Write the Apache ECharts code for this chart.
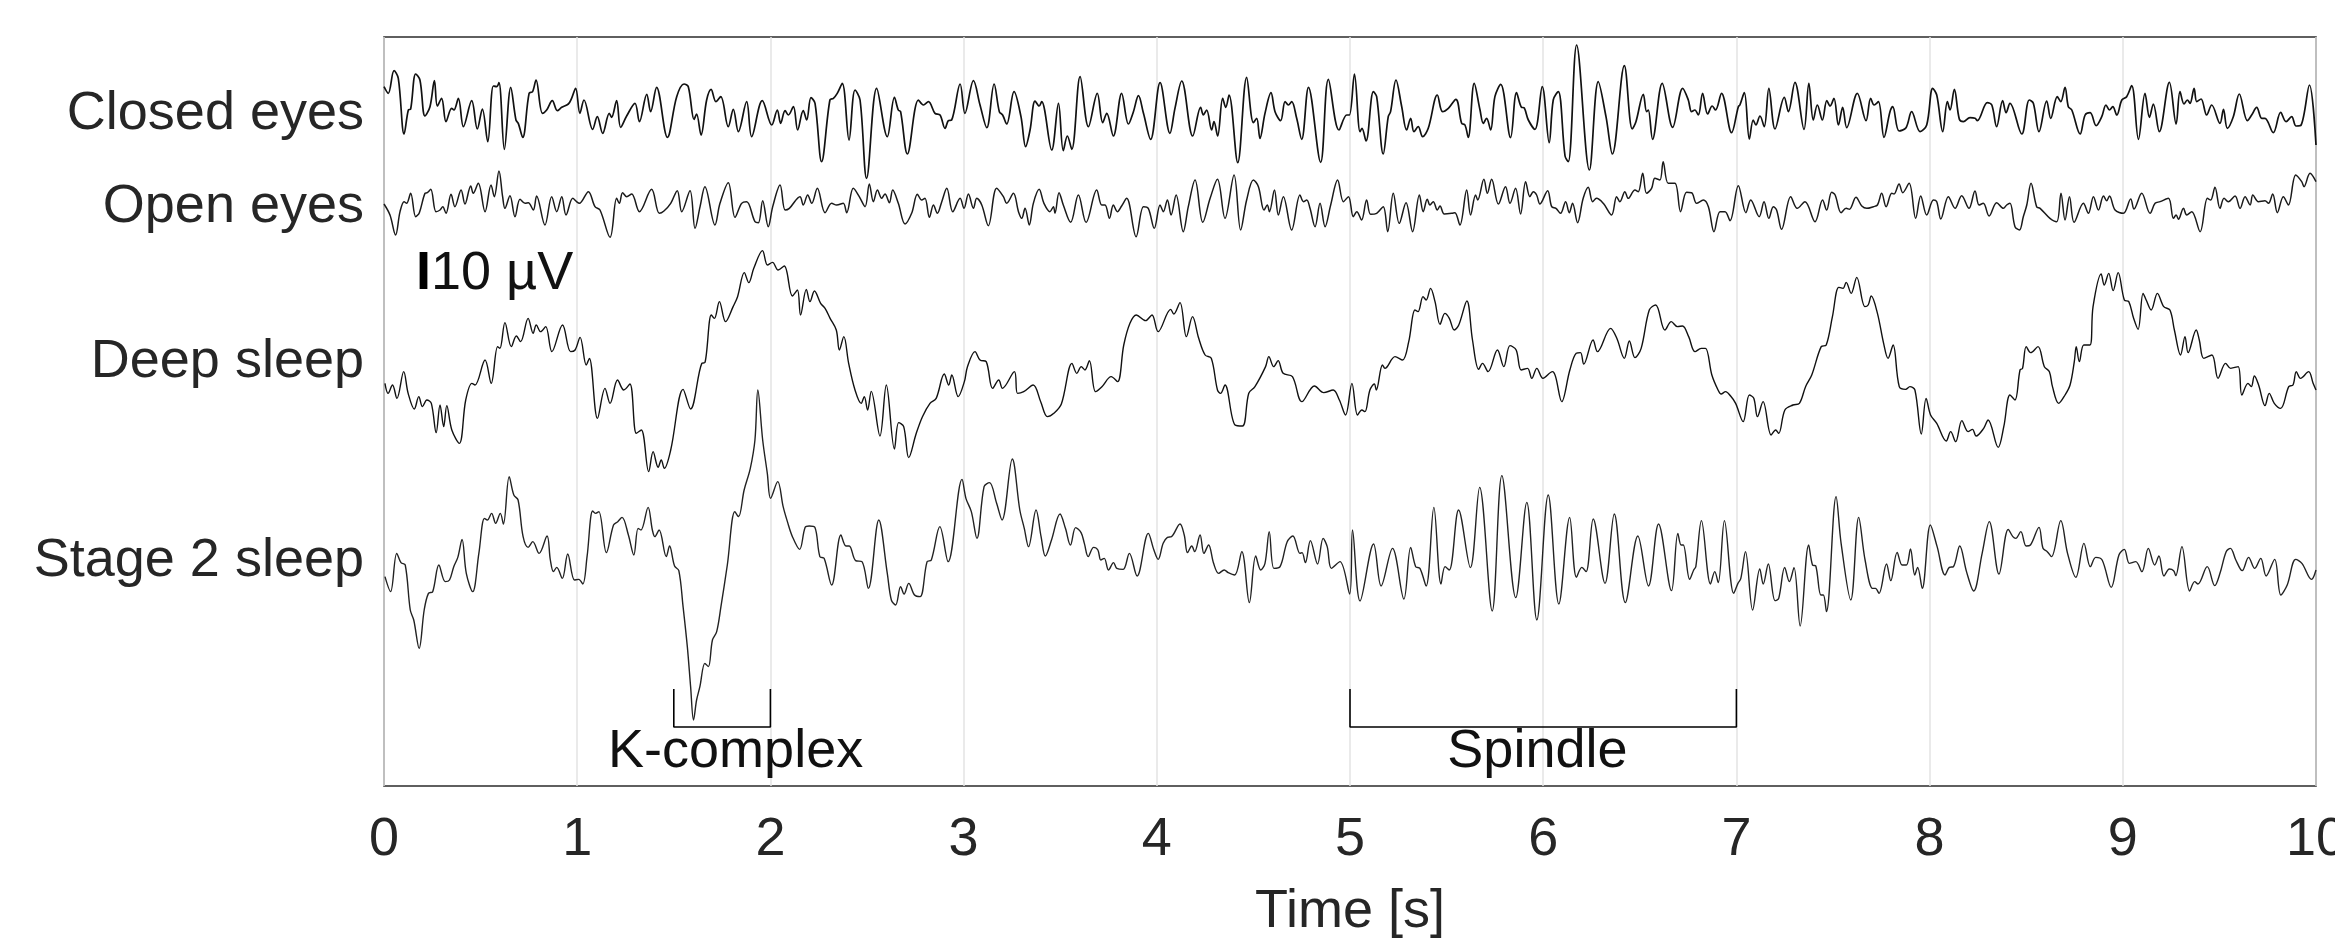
<!DOCTYPE html>
<html>
<head>
<meta charset="utf-8">
<script src="https://cdn.jsdelivr.net/npm/echarts@6/dist/echarts.min.js"></script>
<style>html,body{margin:0;padding:0;background:#fff;overflow:hidden}#c{width:2335px;height:946px}</style>
</head>
<body>
<div id="c"></div>
<script>
// ---- data: [time (s), amplitude (µV)] ----
const traceNames = ['Closed eyes', 'Open eyes', 'Deep sleep', 'Stage 2 sleep'];
const xTicks = [0,1,2,3,4,5,6,7,8,9,10];
const scaleLabel = '10 µV';
const kComplexSpan = [1.5, 2.0];
const spindleSpan = [5.0, 7.0];

const closedEyes = [[0.000,7.0],[0.022,5.0],[0.052,11.8],[0.074,9.5],[0.104,-7.2],[0.126,0.0],[0.138,0.3],[0.164,10.8],[0.186,9.0],[0.212,-1.8],[0.238,1.0],[0.261,8.8],[0.276,1.2],[0.298,3.5],[0.321,-3.5],[0.350,0.5],[0.362,0.0],[0.385,3.5],[0.411,-5.0],[0.454,2.8],[0.483,-5.7],[0.509,0.3],[0.537,-9.5],[0.566,7.2],[0.583,7.0],[0.595,8.2],[0.623,-11.8],[0.656,6.8],[0.683,-3.0],[0.695,-4.0],[0.718,-8.2],[0.751,5.0],[0.769,5.5],[0.787,9.0],[0.820,-1.0],[0.842,0.0],[0.871,2.8],[0.897,-0.2],[0.920,0.8],[0.954,1.8],[0.971,3.5],[0.992,6.5],[1.014,-1.0],[1.035,3.0],[1.080,-5.8],[1.104,-2.0],[1.132,-7.0],[1.166,-1.0],[1.178,-2.2],[1.204,2.8],[1.225,-5.2],[1.256,-1.8],[1.299,2.0],[1.322,-3.5],[1.360,4.7],[1.380,-0.5],[1.411,6.8],[1.467,-8.2],[1.515,4.0],[1.553,7.8],[1.575,7.0],[1.605,-2.8],[1.618,-1.2],[1.641,-7.5],[1.670,3.0],[1.693,6.2],[1.718,2.5],[1.743,4.0],[1.782,-5.0],[1.808,0.2],[1.834,-6.5],[1.877,2.5],[1.903,-8.0],[1.958,2.8],[2.007,-4.5],[2.036,0.0],[2.053,-4.0],[2.076,-0.2],[2.093,-1.5],[2.119,1.0],[2.141,-6.0],[2.170,-0.2],[2.188,-3.0],[2.210,3.7],[2.231,2.0],[2.265,-15.5],[2.308,3.0],[2.326,3.5],[2.346,5.0],[2.372,8.0],[2.407,-9.0],[2.438,6.0],[2.464,3.0],[2.498,-20.5],[2.550,6.5],[2.605,-8.0],[2.642,3.8],[2.662,0.0],[2.674,-0.5],[2.709,-13.2],[2.766,3.0],[2.792,1.5],[2.818,2.5],[2.852,-1.0],[2.878,-1.5],[2.904,-5.5],[2.921,-3.2],[2.938,-3.0],[2.982,7.8],[3.007,-1.0],[3.051,8.8],[3.085,1.5],[3.120,-5.3],[3.158,7.8],[3.185,-0.5],[3.202,-1.5],[3.223,-4.2],[3.261,5.5],[3.297,-2.0],[3.321,-11.0],[3.344,-6.0],[3.370,2.7],[3.391,1.2],[3.404,2.5],[3.456,-12.0],[3.491,2.0],[3.516,-12.2],[3.537,-7.8],[3.560,-11.8],[3.603,10.0],[3.646,-5.0],[3.692,5.0],[3.720,-3.8],[3.741,-1.0],[3.775,-7.8],[3.818,5.0],[3.853,-4.2],[3.879,-0.5],[3.905,4.3],[3.931,-1.0],[3.968,-8.8],[4.017,8.2],[4.068,-7.0],[4.094,0.5],[4.129,8.7],[4.186,-7.8],[4.227,0.8],[4.241,-1.5],[4.258,0.0],[4.284,-6.0],[4.296,-3.5],[4.315,-7.8],[4.341,3.5],[4.357,0.8],[4.374,4.5],[4.419,-15.8],[4.465,9.8],[4.500,-3.8],[4.517,-2.5],[4.534,-8.5],[4.560,-1.0],[4.591,5.2],[4.612,-0.5],[4.641,-3.2],[4.664,2.5],[4.681,1.5],[4.698,2.5],[4.724,-2.5],[4.750,-8.8],[4.785,6.8],[4.848,-15.7],[4.888,9.2],[4.943,-6.0],[4.983,-1.5],[4.997,-1.5],[5.023,10.8],[5.052,-6.5],[5.062,-5.5],[5.083,-9.3],[5.121,5.5],[5.138,4.0],[5.172,-13.2],[5.198,-2.0],[5.210,-0.5],[5.238,9.0],[5.267,1.2],[5.293,-6.0],[5.314,-2.5],[5.331,-6.5],[5.353,-5.0],[5.376,-8.0],[5.405,-5.5],[5.452,4.5],[5.479,-0.5],[5.509,0.5],[5.548,3.2],[5.578,-4.0],[5.595,-4.5],[5.612,-8.2],[5.643,8.0],[5.673,0.0],[5.690,-4.0],[5.707,-2.5],[5.728,-6.0],[5.750,4.0],[5.780,7.7],[5.831,-8.3],[5.862,5.2],[5.888,0.8],[5.900,0.7],[5.923,-3.0],[5.957,-5.8],[5.995,7.0],[6.031,-9.8],[6.052,3.0],[6.078,5.5],[6.113,-13.8],[6.130,-15.5],[6.173,19.5],[6.239,-18.0],[6.285,8.5],[6.325,-2.0],[6.358,-13.2],[6.420,13.3],[6.461,-5.7],[6.480,-3.5],[6.518,4.7],[6.535,-0.5],[6.544,0.0],[6.566,-8.8],[6.616,8.0],[6.670,-5.2],[6.722,6.5],[6.751,3.0],[6.768,-0.5],[6.785,0.0],[6.803,-1.5],[6.825,5.0],[6.851,-1.2],[6.875,1.2],[6.892,0.0],[6.923,5.0],[6.975,-6.8],[7.010,1.0],[7.018,1.5],[7.041,5.2],[7.067,-8.7],[7.087,-3.0],[7.101,-4.5],[7.122,-1.8],[7.144,-5.0],[7.168,6.5],[7.200,-5.7],[7.248,3.8],[7.269,-0.5],[7.303,8.3],[7.350,-5.8],[7.375,8.0],[7.398,-3.0],[7.419,1.5],[7.445,-3.0],[7.468,2.8],[7.485,1.2],[7.505,3.5],[7.528,-4.5],[7.550,0.8],[7.571,-5.3],[7.626,5.0],[7.671,-3.2],[7.695,3.5],[7.713,1.5],[7.735,2.5],[7.764,-8.2],[7.795,-0.5],[7.809,1.0],[7.842,-6.3],[7.878,-5.3],[7.907,-0.5],[7.951,-6.5],[7.985,-4.5],[8.016,6.5],[8.037,4.5],[8.068,-6.5],[8.092,2.5],[8.106,0.0],[8.128,6.2],[8.154,-2.8],[8.175,-3.5],[8.209,-2.3],[8.235,-2.5],[8.247,-3.2],[8.299,2.2],[8.322,1.5],[8.347,-5.0],[8.378,2.8],[8.396,-0.8],[8.416,2.0],[8.477,-7.2],[8.516,3.0],[8.537,2.0],[8.566,-6.5],[8.606,2.7],[8.627,-2.5],[8.661,4.0],[8.679,2.5],[8.701,6.8],[8.718,1.0],[8.736,0.0],[8.779,-7.2],[8.805,-1.5],[8.831,-0.8],[8.862,-4.7],[8.891,-2.0],[8.913,1.5],[8.931,0.0],[8.948,1.0],[8.969,-1.5],[8.995,3.0],[9.020,4.0],[9.046,7.3],[9.081,-8.8],[9.115,5.0],[9.138,-2.2],[9.158,1.8],[9.189,-6.5],[9.241,8.3],[9.276,-4.2],[9.296,5.5],[9.317,1.8],[9.334,3.0],[9.348,2.0],[9.369,6.5],[9.383,2.5],[9.405,3.3],[9.434,-1.5],[9.460,1.5],[9.503,-4.0],[9.521,0.2],[9.541,-5.5],[9.572,-2.0],[9.603,4.8],[9.645,-3.2],[9.667,-1.5],[9.693,0.8],[9.719,-2.5],[9.736,-2.5],[9.779,-6.8],[9.817,-0.7],[9.845,-3.5],[9.874,-2.0],[9.897,-4.8],[9.923,-4.5],[9.966,7.5],[10.000,-10.5]];

const openEyes = [[0.000,-0.2],[0.031,-3.5],[0.060,-9.5],[0.083,-2.5],[0.104,0.5],[0.117,0.0],[0.138,3.0],[0.164,-4.0],[0.183,-2.8],[0.212,3.0],[0.224,3.2],[0.242,4.2],[0.269,-2.5],[0.290,-2.0],[0.304,-1.0],[0.321,-3.0],[0.347,2.7],[0.367,-1.0],[0.399,4.0],[0.419,-0.2],[0.449,5.2],[0.462,3.0],[0.488,6.0],[0.523,-2.5],[0.554,5.5],[0.571,2.0],[0.595,9.7],[0.614,2.0],[0.626,-1.5],[0.652,2.3],[0.678,-4.0],[0.704,1.2],[0.730,0.0],[0.747,0.2],[0.773,-2.0],[0.790,2.2],[0.833,-6.5],[0.868,2.0],[0.894,-2.5],[0.920,2.0],[0.942,-3.5],[0.977,1.5],[0.997,0.5],[1.011,0.0],[1.058,3.5],[1.092,-1.0],[1.118,-2.0],[1.170,-10.2],[1.204,1.5],[1.218,0.0],[1.235,3.2],[1.256,2.0],[1.282,2.8],[1.322,-2.5],[1.385,4.2],[1.425,-3.0],[1.449,-2.3],[1.484,0.0],[1.518,3.8],[1.541,-2.5],[1.584,3.8],[1.610,-7.5],[1.636,-1.0],[1.661,5.0],[1.713,-6.5],[1.739,0.0],[1.782,6.2],[1.817,-4.2],[1.851,0.0],[1.877,0.5],[1.920,-5.5],[1.938,-5.8],[1.960,0.8],[1.989,-7.0],[2.012,-1.0],[2.050,5.5],[2.076,-2.0],[2.098,-1.5],[2.153,2.0],[2.170,-0.5],[2.193,2.5],[2.214,0.0],[2.243,4.5],[2.283,-2.8],[2.317,0.0],[2.343,-0.5],[2.377,0.0],[2.395,-2.8],[2.429,4.5],[2.460,2.0],[2.490,-1.0],[2.512,5.8],[2.533,0.5],[2.554,4.0],[2.576,1.5],[2.593,2.8],[2.616,0.2],[2.633,4.0],[2.662,0.0],[2.697,-6.2],[2.731,-3.0],[2.761,2.7],[2.783,1.0],[2.800,1.5],[2.823,-4.2],[2.844,-0.5],[2.864,-3.0],[2.887,0.5],[2.913,4.5],[2.944,-2.5],[2.982,1.5],[3.002,-1.5],[3.025,2.8],[3.051,-1.5],[3.068,1.5],[3.094,-0.5],[3.128,-6.7],[3.171,4.5],[3.206,2.0],[3.223,0.0],[3.258,3.0],[3.284,-2.5],[3.301,-4.5],[3.318,-1.5],[3.340,-6.5],[3.361,0.0],[3.391,4.2],[3.416,0.0],[3.447,-2.5],[3.465,-1.0],[3.473,-3.0],[3.494,3.2],[3.516,-0.5],[3.554,-5.7],[3.594,2.5],[3.634,-5.7],[3.689,4.0],[3.715,-0.5],[3.732,-0.5],[3.755,-4.5],[3.775,-0.5],[3.796,-2.5],[3.818,-0.8],[3.844,1.5],[3.893,-10.0],[3.931,-1.0],[3.956,-1.5],[3.987,-7.5],[4.017,-0.5],[4.034,-2.5],[4.055,1.0],[4.074,-3.5],[4.100,2.5],[4.137,-8.5],[4.163,-1.0],[4.198,7.0],[4.238,-5.7],[4.276,1.5],[4.314,7.2],[4.353,-4.5],[4.400,8.5],[4.434,-8.0],[4.465,1.0],[4.500,7.0],[4.526,5.0],[4.555,-2.0],[4.572,-0.5],[4.583,-2.5],[4.609,4.0],[4.629,-3.5],[4.655,2.0],[4.698,-8.0],[4.741,2.5],[4.759,0.5],[4.776,1.0],[4.793,-1.5],[4.819,-7.0],[4.845,0.0],[4.871,-7.0],[4.900,-0.5],[4.936,7.0],[4.966,0.5],[4.992,2.0],[5.017,-4.0],[5.035,-2.5],[5.060,-5.0],[5.086,1.0],[5.107,-3.3],[5.138,-3.0],[5.172,-1.0],[5.195,-8.5],[5.224,3.0],[5.255,-6.0],[5.290,0.2],[5.324,-8.5],[5.359,2.5],[5.379,-2.5],[5.400,1.2],[5.414,-0.5],[5.431,0.5],[5.452,-2.0],[5.466,-0.8],[5.488,-3.2],[5.526,-3.0],[5.543,-2.8],[5.569,-6.5],[5.604,4.0],[5.624,-3.5],[5.650,2.5],[5.661,1.0],[5.693,7.2],[5.711,3.0],[5.733,7.2],[5.768,-0.2],[5.805,5.0],[5.828,0.0],[5.857,4.5],[5.883,-3.2],[5.909,6.5],[5.931,2.0],[5.949,3.5],[5.966,2.5],[5.983,-0.2],[6.023,3.8],[6.044,-1.0],[6.066,-1.5],[6.090,-3.0],[6.116,0.5],[6.135,-2.8],[6.152,0.0],[6.178,-5.8],[6.207,1.5],[6.233,4.8],[6.256,0.5],[6.276,1.5],[6.311,0.0],[6.354,-3.5],[6.380,2.0],[6.397,0.5],[6.423,3.5],[6.440,1.5],[6.475,4.0],[6.492,3.5],[6.515,9.0],[6.535,3.0],[6.561,4.5],[6.578,7.5],[6.604,7.0],[6.621,12.5],[6.647,6.0],[6.682,6.0],[6.711,-2.5],[6.742,3.3],[6.768,3.2],[6.794,0.0],[6.829,1.0],[6.855,-1.0],[6.884,-8.5],[6.915,-2.5],[6.941,-2.5],[6.967,-5.2],[7.010,5.3],[7.049,-2.8],[7.074,1.0],[7.118,-4.0],[7.143,0.5],[7.168,-4.5],[7.191,-1.0],[7.208,-2.0],[7.234,-7.8],[7.281,2.0],[7.315,-1.5],[7.355,0.5],[7.407,-5.5],[7.446,1.0],[7.467,-2.0],[7.493,3.3],[7.511,2.5],[7.542,-2.8],[7.568,-1.5],[7.585,-1.8],[7.619,1.8],[7.649,-0.8],[7.675,-1.5],[7.709,-1.0],[7.730,-0.5],[7.752,3.0],[7.775,-1.0],[7.804,3.0],[7.816,2.8],[7.842,5.8],[7.861,3.2],[7.894,6.0],[7.928,-4.5],[7.954,2.2],[7.985,-3.5],[8.020,1.0],[8.037,0.5],[8.058,-4.7],[8.097,2.0],[8.132,-1.5],[8.166,2.3],[8.204,-1.5],[8.235,3.7],[8.256,-0.5],[8.278,0.0],[8.308,-3.8],[8.347,0.2],[8.382,-1.5],[8.399,-0.5],[8.416,0.0],[8.442,-7.0],[8.465,-8.0],[8.485,-4.0],[8.503,-0.5],[8.525,6.0],[8.554,-1.0],[8.572,-1.5],[8.623,-4.5],[8.658,-5.5],[8.680,3.0],[8.701,-5.0],[8.724,2.0],[8.748,-5.7],[8.796,0.0],[8.822,-3.0],[8.848,2.0],[8.874,-2.0],[8.900,2.2],[8.917,0.8],[8.931,2.2],[8.960,-2.0],[9.003,-3.0],[9.041,1.3],[9.058,-1.7],[9.098,3.0],[9.141,-3.0],[9.167,0.0],[9.193,0.5],[9.236,1.5],[9.262,-4.5],[9.276,-3.5],[9.288,-4.8],[9.314,-1.5],[9.331,-3.5],[9.357,-2.5],[9.400,-8.5],[9.438,1.5],[9.455,1.0],[9.477,4.8],[9.503,-1.5],[9.524,1.5],[9.546,0.5],[9.581,2.2],[9.607,-1.5],[9.633,2.0],[9.659,-0.5],[9.673,2.5],[9.702,0.5],[9.736,0.8],[9.754,0.0],[9.776,2.8],[9.800,-2.8],[9.831,2.0],[9.857,-0.5],[9.895,8.5],[9.926,6.5],[9.938,5.0],[9.969,9.0],[10.000,6.5]];

const deepSleep = [[0.005,-6.0],[0.021,-9.0],[0.044,-6.5],[0.067,-10.5],[0.102,-2.5],[0.125,-9.0],[0.157,-13.7],[0.180,-10.0],[0.199,-13.0],[0.222,-11.0],[0.245,-12.0],[0.270,-20.8],[0.290,-12.5],[0.309,-19.0],[0.325,-12.7],[0.351,-20.0],[0.390,-24.0],[0.423,-11.0],[0.455,-6.0],[0.471,-6.5],[0.523,1.0],[0.555,-6.0],[0.588,5.0],[0.600,4.5],[0.626,12.2],[0.659,5.0],[0.685,8.2],[0.707,6.5],[0.746,13.5],[0.772,9.0],[0.788,11.5],[0.811,9.5],[0.837,11.0],[0.869,3.5],[0.924,11.5],[0.966,3.5],[0.989,4.0],[1.015,7.8],[1.047,-0.5],[1.063,1.5],[1.105,-16.5],[1.144,-7.5],[1.170,-12.0],[1.209,-5.0],[1.241,-8.0],[1.273,-6.2],[1.306,-21.0],[1.332,-20.0],[1.370,-32.5],[1.393,-26.5],[1.419,-31.2],[1.435,-29.0],[1.451,-31.5],[1.484,-26.0],[1.548,-7.8],[1.587,-13.7],[1.645,0.0],[1.661,0.2],[1.694,14.5],[1.710,13.5],[1.736,18.5],[1.768,12.5],[1.807,17.0],[1.830,20.0],[1.865,27.2],[1.888,24.2],[1.914,28.5],[1.959,33.8],[1.985,29.5],[2.011,30.3],[2.040,28.0],[2.072,29.2],[2.114,20.2],[2.140,22.0],[2.156,14.5],[2.186,22.2],[2.205,18.5],[2.228,21.7],[2.260,18.0],[2.283,16.5],[2.309,13.5],[2.341,10.0],[2.357,4.0],[2.380,8.0],[2.405,0.0],[2.438,-8.0],[2.470,-12.0],[2.486,-10.0],[2.503,-14.0],[2.522,-8.4],[2.567,-21.8],[2.600,-6.5],[2.642,-25.7],[2.664,-17.8],[2.690,-19.0],[2.716,-28.3],[2.755,-21.0],[2.787,-16.0],[2.826,-12.0],[2.858,-10.5],[2.900,-3.2],[2.923,-6.5],[2.939,-3.5],[2.972,-10.0],[3.004,-5.5],[3.020,-1.0],[3.059,3.5],[3.085,1.0],[3.117,0.5],[3.150,-7.5],[3.182,-5.0],[3.201,-7.5],[3.263,-2.5],[3.279,-9.0],[3.311,-8.5],[3.360,-6.5],[3.399,-11.5],[3.434,-16.0],[3.467,-15.0],[3.506,-12.2],[3.561,0.0],[3.586,-3.0],[3.609,-1.0],[3.628,-2.0],[3.651,0.8],[3.683,-8.5],[3.716,-7.0],[3.764,-4.0],[3.797,-5.5],[3.829,5.5],[3.861,12.0],[3.894,14.5],[3.942,12.8],[3.975,14.5],[4.007,9.5],[4.072,16.2],[4.088,14.8],[4.120,18.2],[4.153,8.0],[4.185,14.0],[4.217,7.5],[4.250,2.5],[4.282,1.5],[4.314,-8.0],[4.330,-9.0],[4.353,-6.5],[4.405,-18.5],[4.444,-18.8],[4.476,-9.0],[4.508,-7.0],[4.563,-1.0],[4.580,2.0],[4.605,-1.0],[4.628,0.8],[4.654,-3.0],[4.702,-4.0],[4.751,-11.5],[4.816,-6.8],[4.864,-8.8],[4.913,-8.0],[4.945,-11.0],[4.977,-15.5],[5.010,-6.0],[5.039,-15.5],[5.061,-14.0],[5.077,-14.5],[5.103,-8.0],[5.126,-6.2],[5.136,-8.0],[5.168,-0.5],[5.181,-1.5],[5.233,2.0],[5.272,1.0],[5.304,6.5],[5.336,16.0],[5.352,15.5],[5.378,20.0],[5.394,19.0],[5.417,22.5],[5.440,18.5],[5.466,11.7],[5.491,15.0],[5.514,13.5],[5.540,10.0],[5.563,11.5],[5.605,18.7],[5.634,7.0],[5.666,-1.8],[5.686,0.0],[5.715,-2.5],[5.763,4.0],[5.796,-1.0],[5.828,5.3],[5.860,4.0],[5.886,-2.0],[5.919,-1.5],[5.941,-4.5],[5.967,-1.5],[5.999,-4.5],[6.048,-2.5],[6.064,-4.0],[6.096,-11.5],[6.138,-2.0],[6.171,3.0],[6.193,3.2],[6.210,-0.2],[6.258,7.0],[6.281,3.5],[6.349,10.5],[6.381,7.5],[6.420,1.5],[6.446,6.7],[6.475,1.7],[6.507,4.5],[6.549,16.0],[6.582,17.5],[6.630,10.0],[6.663,12.5],[6.695,11.0],[6.721,11.2],[6.753,8.0],[6.786,3.5],[6.818,4.5],[6.840,4.5],[6.873,-3.5],[6.905,-8.0],[6.921,-9.2],[6.944,-8.5],[6.970,-9.8],[6.996,-12.0],[7.035,-17.5],[7.067,-9.5],[7.090,-10.5],[7.109,-16.0],[7.138,-11.5],[7.180,-21.5],[7.203,-20.0],[7.219,-21.0],[7.251,-14.0],[7.293,-12.5],[7.326,-12.0],[7.358,-7.0],[7.390,-3.5],[7.439,5.0],[7.465,5.5],[7.497,14.0],[7.530,22.8],[7.552,22.5],[7.568,24.3],[7.594,21.0],[7.623,25.8],[7.665,17.0],[7.682,17.5],[7.698,20.2],[7.730,15.0],[7.762,6.0],[7.785,1.5],[7.811,5.5],[7.843,-7.0],[7.876,-7.8],[7.898,-7.0],[7.924,-8.0],[7.957,-21.2],[7.982,-10.5],[8.005,-15.5],[8.037,-18.0],[8.086,-23.3],[8.109,-20.5],[8.135,-23.5],[8.167,-17.2],[8.199,-20.5],[8.222,-19.8],[8.241,-21.8],[8.280,-19.5],[8.303,-17.0],[8.355,-25.2],[8.384,-19.0],[8.416,-9.5],[8.442,-11.0],[8.468,-2.0],[8.481,-1.5],[8.500,5.0],[8.523,3.2],[8.561,5.0],[8.594,-1.0],[8.620,-2.5],[8.636,-7.0],[8.668,-12.0],[8.701,-9.5],[8.727,-6.5],[8.749,0.5],[8.759,5.0],[8.775,0.5],[8.798,5.5],[8.830,5.5],[8.846,17.0],[8.888,26.8],[8.904,23.5],[8.927,27.0],[8.950,21.8],[8.976,27.2],[9.008,19.0],[9.031,18.5],[9.056,13.5],[9.079,10.2],[9.105,21.0],[9.121,19.0],[9.147,16.0],[9.179,21.0],[9.212,17.0],[9.244,16.0],[9.267,10.0],[9.299,2.5],[9.322,8.0],[9.338,3.2],[9.380,10.0],[9.396,7.0],[9.419,1.5],[9.461,2.5],[9.493,-4.5],[9.532,0.0],[9.558,-1.5],[9.597,-1.0],[9.616,-9.5],[9.648,-6.0],[9.665,-7.0],[9.681,-3.8],[9.703,-6.5],[9.736,-12.7],[9.758,-9.0],[9.784,-12.0],[9.817,-13.5],[9.859,-7.0],[9.881,-6.5],[9.898,-2.5],[9.920,-4.5],[9.962,-2.5],[9.985,-6.0],[10.000,-8.0]];

const stage2Sleep = [[0.005,-1.0],[0.034,-5.5],[0.066,6.0],[0.088,3.2],[0.110,2.5],[0.136,-11.0],[0.154,-14.0],[0.182,-22.5],[0.208,-11.0],[0.230,-6.0],[0.252,-5.5],[0.284,2.5],[0.317,-2.5],[0.339,-2.0],[0.361,2.0],[0.382,4.8],[0.404,10.2],[0.426,0.0],[0.459,-5.5],[0.491,6.0],[0.520,16.5],[0.535,16.0],[0.557,18.0],[0.578,15.0],[0.602,18.0],[0.618,14.8],[0.648,29.0],[0.672,23.5],[0.694,22.0],[0.720,11.0],[0.746,7.8],[0.770,9.5],[0.803,6.0],[0.844,11.2],[0.861,4.0],[0.877,0.5],[0.894,1.8],[0.923,-1.5],[0.951,5.8],[0.986,-2.0],[1.008,-1.8],[1.029,-3.2],[1.051,5.0],[1.080,18.7],[1.095,18.0],[1.112,18.5],[1.151,6.2],[1.188,14.5],[1.210,15.5],[1.232,16.8],[1.265,11.5],[1.293,5.5],[1.315,13.5],[1.330,13.0],[1.367,19.8],[1.389,13.0],[1.402,11.0],[1.424,13.0],[1.461,5.0],[1.478,8.2],[1.504,2.2],[1.526,0.8],[1.548,-10.0],[1.570,-22.0],[1.587,-34.0],[1.602,-44.0],[1.618,-38.0],[1.635,-34.0],[1.661,-27.0],[1.679,-28.0],[1.700,-20.0],[1.722,-17.5],[1.744,-10.0],[1.777,2.5],[1.816,18.5],[1.835,17.0],[1.864,25.0],[1.896,31.5],[1.920,40.0],[1.935,55.0],[1.960,40.0],[1.984,30.0],[2.001,22.5],[2.038,27.5],[2.066,20.0],[2.088,15.5],[2.114,11.0],[2.151,7.2],[2.180,13.8],[2.201,14.2],[2.230,13.8],[2.256,5.0],[2.278,4.5],[2.317,-3.5],[2.365,11.5],[2.391,8.2],[2.408,8.2],[2.441,3.8],[2.474,3.5],[2.507,-4.5],[2.561,16.0],[2.605,0.0],[2.626,-8.0],[2.648,-9.5],[2.674,-4.0],[2.692,-6.2],[2.716,-3.0],[2.746,-6.5],[2.775,-7.0],[2.811,3.5],[2.833,4.0],[2.877,14.0],[2.920,3.5],[2.992,28.2],[3.012,22.5],[3.040,18.5],[3.069,10.5],[3.106,26.0],[3.134,27.2],[3.171,21.0],[3.199,16.0],[3.252,34.3],[3.291,19.0],[3.314,13.5],[3.336,8.0],[3.375,19.0],[3.401,11.0],[3.423,5.2],[3.455,10.0],[3.499,17.8],[3.527,13.5],[3.553,8.5],[3.580,13.7],[3.608,12.2],[3.625,9.0],[3.645,5.0],[3.673,7.8],[3.695,7.0],[3.710,4.0],[3.728,4.5],[3.750,1.0],[3.776,3.2],[3.793,1.5],[3.826,1.2],[3.858,6.0],[3.898,-0.8],[3.956,12.0],[3.985,7.0],[4.007,4.2],[4.033,9.0],[4.055,10.8],[4.076,11.0],[4.120,14.8],[4.142,11.5],[4.159,6.2],[4.181,8.2],[4.196,6.5],[4.224,11.5],[4.244,6.0],[4.268,8.5],[4.294,3.0],[4.320,0.0],[4.349,1.0],[4.370,0.2],[4.403,-0.5],[4.440,6.5],[4.479,-8.8],[4.512,5.2],[4.538,1.0],[4.560,3.0],[4.582,12.5],[4.606,1.5],[4.638,2.0],[4.675,9.5],[4.704,11.2],[4.741,6.0],[4.752,6.2],[4.769,3.2],[4.795,9.8],[4.832,2.8],[4.861,10.5],[4.882,8.0],[4.904,1.5],[4.948,3.5],[4.998,-6.2],[5.013,13.0],[5.052,-8.3],[5.122,8.8],[5.161,-3.8],[5.220,7.5],[5.279,-7.7],[5.314,7.8],[5.340,2.0],[5.362,1.5],[5.394,-3.8],[5.434,19.8],[5.471,-3.2],[5.492,2.0],[5.514,1.0],[5.562,19.0],[5.623,1.7],[5.671,25.8],[5.736,-11.3],[5.786,29.3],[5.858,-7.3],[5.915,21.3],[5.967,-14.0],[6.026,23.5],[6.081,-9.2],[6.137,16.8],[6.172,-1.2],[6.200,1.8],[6.222,0.5],[6.259,16.3],[6.320,-3.0],[6.368,17.8],[6.425,-8.8],[6.490,11.2],[6.545,-3.8],[6.597,14.8],[6.664,-5.2],[6.697,12.0],[6.714,8.5],[6.725,8.5],[6.758,-1.8],[6.779,1.0],[6.790,2.0],[6.819,15.8],[6.866,-3.2],[6.888,0.5],[6.906,-2.8],[6.938,15.8],[6.986,-6.0],[7.008,-3.0],[7.023,-1.5],[7.047,6.5],[7.084,-11.0],[7.121,1.3],[7.139,-3.2],[7.165,2.8],[7.200,-8.2],[7.219,-7.5],[7.250,1.8],[7.274,-2.5],[7.298,1.7],[7.330,-15.8],[7.374,8.5],[7.394,2.5],[7.411,2.2],[7.437,-6.5],[7.450,-6.5],[7.466,-11.5],[7.516,23.0],[7.542,9.0],[7.592,-8.0],[7.633,16.8],[7.666,4.0],[7.705,-4.5],[7.720,-4.5],[7.738,-6.0],[7.777,2.8],[7.799,-2.2],[7.832,6.3],[7.858,2.5],[7.880,2.5],[7.901,7.3],[7.923,-0.5],[7.938,1.8],[7.962,-4.5],[8.004,14.5],[8.039,8.0],[8.080,-0.5],[8.102,1.8],[8.123,2.0],[8.156,8.2],[8.191,0.5],[8.228,-5.3],[8.272,6.0],[8.309,15.5],[8.359,-0.2],[8.407,13.2],[8.431,11.0],[8.446,10.5],[8.472,12.5],[8.500,8.2],[8.522,8.5],[8.566,13.8],[8.587,7.5],[8.609,6.5],[8.631,5.0],[8.679,15.8],[8.714,6.0],[8.757,-1.2],[8.799,9.0],[8.832,2.0],[8.860,4.8],[8.893,4.0],[8.940,-4.2],[8.980,5.5],[9.008,7.2],[9.034,3.0],[9.067,3.5],[9.099,0.5],[9.132,7.5],[9.165,2.5],[9.187,5.2],[9.213,-0.8],[9.241,1.3],[9.263,0.8],[9.274,-0.7],[9.306,8.0],[9.346,-5.3],[9.372,-2.5],[9.389,-3.2],[9.437,2.0],[9.476,-3.7],[9.503,0.0],[9.535,6.5],[9.557,7.5],[9.585,4.0],[9.618,0.8],[9.651,4.8],[9.683,1.5],[9.714,4.5],[9.742,-0.8],[9.786,4.2],[9.818,-6.5],[9.851,-3.5],[9.895,4.2],[9.927,3.0],[9.977,-1.8],[10.000,1.0]];

// ---- layout constants (µV baseline of each trace on the shared axis) ----
const traceData = [closedEyes, openEyes, deepSleep, stage2Sleep];
const traceOffsets = [202.8, 174.8, 126.8, 63.8];
const traceWidths = [1.7, 1.5, 1.4, 1.4];
const traceColors = ['#111111', '#1a1a1a', '#111111', '#222222'];
const bracketTop = 29.1, bracketBottom = 17.7;
const labelCenters = [114, 207, 362, 561];

const FONT = '"Liberation Sans", Arial, Helvetica, sans-serif';
const TXT = '#262626';

const chart = echarts.init(document.getElementById('c'), null, {renderer: 'canvas'});

const series = traceData.map((d, i) => ({
  type: 'line',
  name: traceNames[i],
  data: d.map(p => [p[0], p[1] + traceOffsets[i]]),
  showSymbol: false,
  smooth: 0.35,
  lineStyle: {color: traceColors[i], width: traceWidths[i]},
  silent: true,
  z: 3
}));

function bracket(span) {
  return {
    type: 'line',
    data: [[span[0], bracketTop], [span[0], bracketBottom], [span[1], bracketBottom], [span[1], bracketTop]],
    showSymbol: false,
    lineStyle: {color: '#000', width: 1.6},
    silent: true,
    z: 4
  };
}
series.push(bracket(kComplexSpan));
series.push(bracket(spindleSpan));

chart.setOption({
  animation: false,
  backgroundColor: '#ffffff',
  grid: {left: 384, right: 2335 - 2316, top: 37, bottom: 160, containLabel: false, outerBoundsMode: 'none',
    show: true, borderColor: '#2b2b2b', borderWidth: 1.6, backgroundColor: 'transparent'},
  xAxis: {
    type: 'value', min: 0, max: 10, interval: 1,
    axisLine: {show: false}, axisTick: {show: false},
    axisLabel: {fontSize: 54, fontFamily: FONT, color: TXT, margin: 27, lineHeight: 54,
      hideOverlap: false, showMinLabel: true, showMaxLabel: true,
      formatter: v => (xTicks.indexOf(v) >= 0 ? String(v) : '')},
    splitLine: {show: true, lineStyle: {color: '#e3e3e3', width: 1.5}},
    name: 'Time [s]', nameLocation: 'middle', nameGap: 99,
    nameTextStyle: {fontSize: 54, fontFamily: FONT, color: TXT, lineHeight: 54}
  },
  yAxis: {type: 'value', min: 0, max: 224.7, show: false, splitLine: {show: false}},
  series: series
});

const kx = chart.convertToPixel({gridIndex: 0}, [1.82, 0])[0];
const sx = chart.convertToPixel({gridIndex: 0}, [5.97, 0])[0];

const graphics = traceNames.map((n, i) => ({
  type: 'text', x: 364, y: labelCenters[i], silent: true,
  style: {text: n, fontSize: 54, fontFamily: FONT, fill: TXT, align: 'right', verticalAlign: 'middle'}
}));
graphics.push({type: 'text', x: kx, y: 752, silent: true,
  style: {text: 'K-complex', fontSize: 54, fontFamily: FONT, fill: '#111', align: 'center', verticalAlign: 'middle'}});
graphics.push({type: 'text', x: sx, y: 752, silent: true,
  style: {text: 'Spindle', fontSize: 54, fontFamily: FONT, fill: '#111', align: 'center', verticalAlign: 'middle'}});
graphics.push({type: 'text', x: 416, y: 274, silent: true,
  style: {text: '{b|I}{t|' + scaleLabel + '}', align: 'left', verticalAlign: 'middle',
    rich: {b: {fontSize: 54, fontFamily: FONT, fontWeight: 'bold', fill: '#000'},
           t: {fontSize: 54, fontFamily: FONT, fill: '#111'}}}});

chart.setOption({graphic: graphics});
</script>
</body>
</html>
